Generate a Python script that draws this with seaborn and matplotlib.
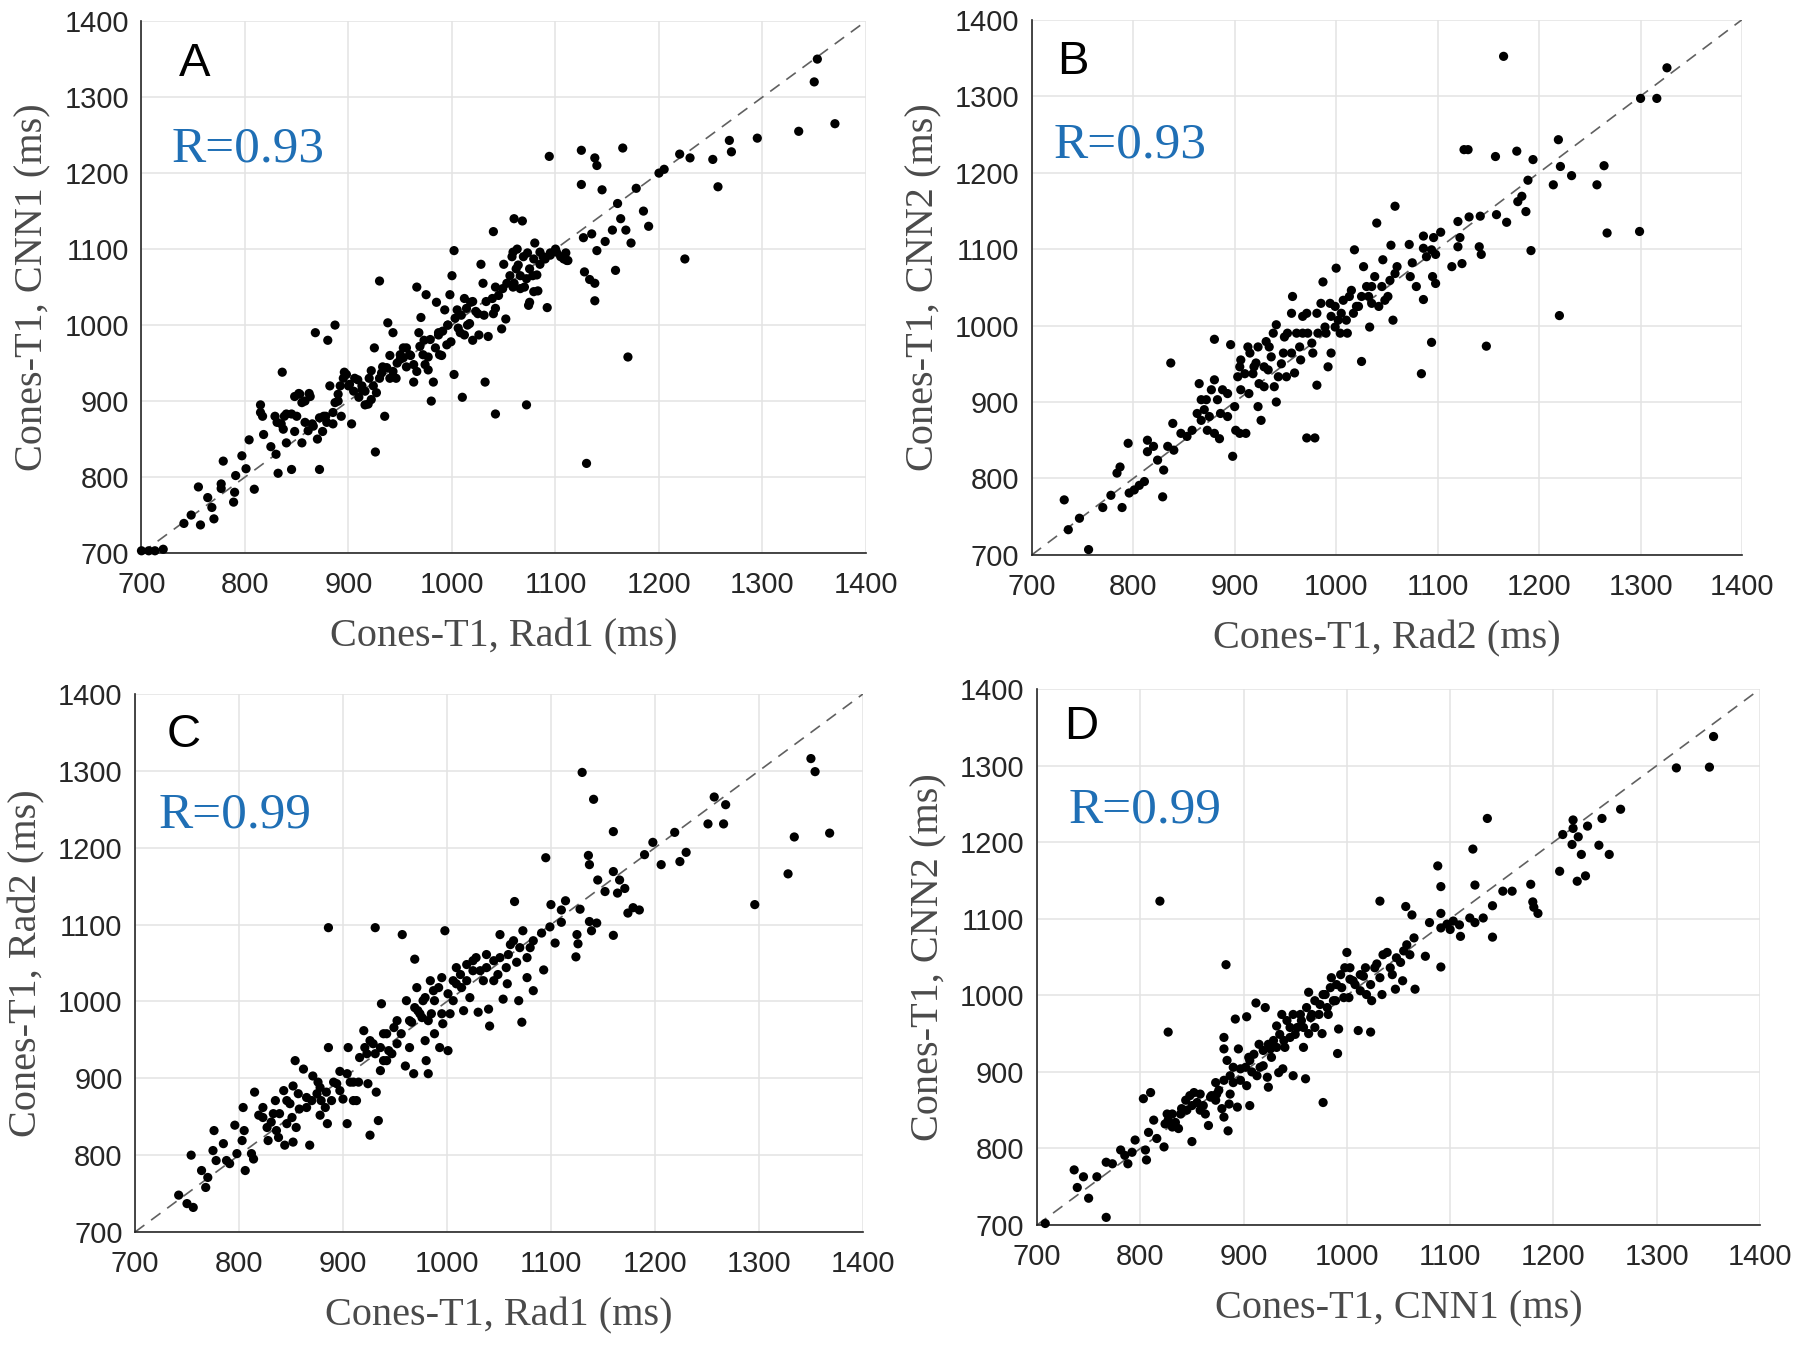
import numpy as np
import pandas as pd
import seaborn as sns
import matplotlib
matplotlib.use("Agg")
import matplotlib.pyplot as plt

# ---- data (ms) ----
a_x = [700, 707, 713, 721, 741, 748, 757, 755, 764, 768, 770, 777, 777, 779, 789, 790, 791, 797, 801, 809,
       804, 815, 815, 818, 825, 830, 832, 835, 838, 836, 840, 845, 848, 850, 852, 855, 858, 862, 865, 868,
       870, 872, 875, 878, 880, 882, 887, 885, 890, 893, 896, 900, 903, 906, 910, 913, 916, 920, 922, 925,
       926, 930, 933, 935, 938, 940, 943, 946, 950, 953, 956, 960, 963, 966, 968, 970, 973, 975, 977, 980,
       982, 985, 987, 990, 993, 996, 998, 1000, 1002, 1002, 1005, 1008, 1010, 1012, 1015, 1018, 1020, 1025, 1028, 1030,
       1032, 1035, 1040, 1042, 1040, 1042, 1048, 1050, 1052, 1058, 1060, 1063, 1060, 1068, 1066, 1070, 1072, 1073, 1075, 1078,
       1080, 1083, 1085, 1088, 1092, 1094, 1095, 1100, 1105, 1110, 1112, 1125, 1125, 1127, 1128, 1130, 1133, 1135, 1138, 1138,
       1140, 1138, 1140, 1145, 1148, 1155, 1158, 1160, 1163, 1165, 1168, 1170, 1173, 1178, 1185, 1190, 1200, 1205, 1220, 1225,
       1230, 1252, 1257, 1268, 1270, 1295, 1335, 1350, 1353, 1370]
a_y = [703, 703, 703, 705, 739, 750, 737, 787, 773, 760, 745, 785, 791, 821, 767, 780, 802, 828, 811, 784,
       849, 895, 885, 856, 840, 830, 805, 870, 880, 938, 845, 810, 860, 880, 910, 845, 900, 910, 870, 990,
       850, 810, 860, 880, 980, 920, 1000, 870, 900, 880, 938, 920, 870, 930, 905, 915, 895, 930, 940, 970,
       833, 1058, 945, 880, 1003, 960, 990, 930, 955, 970, 945, 960, 925, 1050, 990, 1010, 980, 1040, 958, 900,
       925, 1030, 990, 960, 1020, 1000, 1040, 1065, 1098, 935, 1020, 990, 905, 1035, 1000, 1030, 980, 1015, 1080, 1055,
       925, 985, 1123, 1050, 1015, 883, 995, 1080, 1008, 1090, 1140, 1100, 1055, 1137, 1065, 1050, 895, 1095, 1030, 1065,
       1108, 1045, 1080, 1090, 1023, 1222, 1095, 1100, 1090, 1095, 1085, 1185, 1230, 1115, 1070, 818, 1060, 1120, 1055, 1032,
       1098, 1220, 1210, 1178, 1110, 1125, 1072, 1160, 1140, 1233, 1125, 958, 1108, 1180, 1150, 1130, 1200, 1205, 1225, 1087,
       1220, 1218, 1182, 1243, 1228, 1246, 1255, 1320, 1350, 1265]
# extra points in the dense middle of panel A
a_extra = [(817, 880), (829, 880), (831, 872), (837, 863), (840, 883), (845, 883), (848, 906), (853, 909), (863, 906),
           (855, 898), (858, 872), (861, 861), (866, 867), (872, 878), (876, 880), (879, 872), (885, 885), (887, 898),
           (890, 909), (892, 920), (895, 930), (898, 935), (901, 922), (905, 913), (909, 928), (913, 920), (916, 913),
           (919, 896), (922, 902), (924, 920), (927, 911), (930, 930), (932, 937), (937, 944), (940, 930), (943, 939),
           (947, 950), (950, 961), (953, 957), (956, 970), (959, 961), (963, 948), (966, 939), (969, 972), (972, 961),
           (974, 948), (977, 941), (979, 981), (984, 970), (987, 987), (988, 961), (991, 992), (995, 974), (996, 1000),
           (999, 978), (1003, 1009), (1006, 996), (1009, 1013), (1012, 987), (1014, 1022), (1017, 1002), (1020, 1031),
           (1023, 1018), (1026, 987), (1031, 1013), (1033, 1031), (1039, 1035), (1042, 1022), (1045, 1039), (1049, 1048),
           (1053, 1055), (1056, 1065), (1059, 1050), (1062, 1074), (1059, 1096), (1064, 1079), (1069, 1090), (1072, 1061),
           (1075, 1074), (1079, 1087), (1082, 1066), (1085, 1096), (1090, 1087), (1095, 1092), (1101, 1096), (1108, 1087),
           (1111, 1085), (1066, 1048), (1079, 1044), (1074, 1026)]

b_x = [732, 736, 747, 756, 770, 778, 784, 787, 789, 795, 796, 801, 806, 811, 814, 814, 820, 824, 829, 830,
       834, 839, 840, 837, 847, 853, 858, 863, 865, 867, 872, 875, 877, 880, 880, 885, 886, 893, 896, 898,
       901, 905, 905, 906, 911, 913, 914, 919, 923, 923, 926, 929, 931, 933, 936, 939, 941, 941, 946, 949,
       951, 956, 957, 959, 965, 967, 971, 979, 971, 976, 981, 982, 987, 989, 992, 994, 995, 999, 1000, 1002,
       1005, 1011, 1013, 1017, 1018, 1022, 1025, 1027, 1032, 1033, 1035, 1040, 1042, 1046, 1051, 1054, 1056, 1058, 1060,
       1165, 1326, 1300, 1316, 1219, 1126, 1130, 1157, 1178, 1194, 1221, 1264, 1232, 1189, 1214, 1257, 1183, 1179, 1187,
       1158, 1168, 1131, 1142, 1120, 1267, 1299, 1122, 1103, 1096, 1086, 1120, 1141, 1143, 1192, 1114, 1124, 1098, 1095,
       1098, 1086, 1072, 1220, 1148, 1094, 1084, 1075, 1073, 1079, 1089, 1094, 1086]
b_y = [772, 733, 748, 707, 762, 778, 807, 815, 762, 846, 781, 785, 791, 796, 850, 835, 842, 824, 776, 811,
       842, 872, 837, 951, 859, 855, 863, 885, 924, 876, 903, 881, 916, 929, 982, 852, 885, 911, 975, 829,
       863, 946, 859, 916, 859, 972, 911, 946, 972, 894, 876, 920, 979, 942, 959, 920, 1001, 900, 950, 985,
       933, 964, 1038, 938, 955, 990, 853, 853, 1016, 977, 922, 990, 1057, 998, 946, 1029, 964, 998, 1075, 1007,
       1016, 990, 1038, 1016, 1099, 1025, 953, 1077, 1038, 998, 1051, 1134, 1025, 1086, 1038, 1105, 1007, 1156, 1077,
       1352, 1337, 1297, 1297, 1243, 1230, 1230, 1221, 1228, 1217, 1208, 1209, 1196, 1190, 1184, 1184, 1169, 1162, 1149,
       1145, 1135, 1142, 1143, 1136, 1121, 1123, 1115, 1122, 1115, 1117, 1103, 1103, 1093, 1098, 1077, 1081, 1093, 1064,
       1055, 1034, 1106, 1013, 973, 978, 937, 1082, 1064, 1051, 1090, 1099, 1101]
b_extra = [(867, 903), (870, 890), (873, 863), (880, 859), (883, 903), (888, 916), (893, 881), (900, 894), (903, 933),
           (906, 955), (910, 937), (915, 964), (918, 937), (921, 951), (924, 924), (929, 946), (934, 972), (938, 990),
           (943, 933), (948, 964), (952, 990), (956, 1016), (961, 990), (964, 972), (967, 1012), (972, 990), (977, 964),
           (981, 1016), (985, 1029), (990, 990), (995, 1012), (999, 1025), (1004, 990), (1007, 1033), (1010, 1007),
           (1015, 1046), (1020, 1025), (1025, 1038), (1030, 1051), (1035, 1029), (1038, 1064), (1045, 1051),
           (1048, 1033), (1053, 1059), (1058, 1068)]

c_x = [742, 750, 756, 754, 764, 768, 770, 775, 776, 778, 785, 788, 791, 796, 798, 803, 805, 806, 804, 812,
       814, 815, 819, 823, 827, 828, 831, 835, 836, 839, 843, 844, 846, 849, 852, 852, 854, 855, 858, 862,
       865, 868, 870, 871, 876, 878, 879, 884, 885, 886, 886, 889, 894, 897, 900, 904, 905, 907, 910, 913,
       915, 920, 923, 924, 926, 929, 931, 932, 934, 936, 937, 939, 942, 944, 949, 952, 957, 960, 961, 964,
       966, 968, 969, 971, 972, 976, 977, 979, 980, 982, 985, 987, 988, 993, 995, 996, 998, 1001, 1003, 1006,
       1009, 1013, 1016, 1019, 1022, 1025, 1028, 1030, 1035, 1038, 1040, 1041, 1045, 1049, 1051, 1054, 1058, 1059, 1061, 1065,
       1067, 1069, 1072, 1073, 1077, 1080, 1083, 1095, 1100, 1110, 1114, 1110, 1099, 1104, 1093, 1091, 1125, 1126, 1124, 1128,
       1130, 1141, 1136, 1137, 1145, 1137, 1139, 1144, 1152, 1160, 1160, 1160, 1164, 1166, 1171, 1174, 1179, 1185, 1190, 1198,
       1206, 1219, 1224, 1230, 1251, 1257, 1266, 1268, 1296, 1328, 1334, 1350, 1354, 1368]
c_y = [748, 737, 732, 800, 780, 758, 771, 806, 832, 793, 815, 793, 789, 839, 802, 819, 832, 780, 862, 802,
       795, 882, 852, 862, 836, 819, 843, 871, 832, 854, 884, 813, 841, 867, 817, 890, 923, 836, 860, 912,
       875, 813, 871, 903, 895, 852, 871, 882, 841, 1096, 940, 871, 893, 909, 873, 841, 940, 895, 871, 871,
       895, 962, 932, 893, 826, 945, 1096, 882, 845, 910, 997, 958, 923, 936, 966, 945, 1087, 916, 1001, 940,
       973, 906, 1055, 1018, 988, 979, 1001, 949, 923, 906, 984, 1014, 958, 940, 1031, 971, 1092, 936, 984, 1001,
       1023, 1035, 988, 1048, 1005, 1040, 1057, 986, 1027, 1044, 990, 968, 1053, 1035, 1087, 1003, 1023, 1061, 1074, 1130,
       1051, 1001, 973, 1092, 1031, 1070, 1014, 1187, 1126, 1119, 1131, 1103, 1097, 1076, 1041, 1089, 1087, 1075, 1058, 1120,
       1298, 1263, 1190, 1178, 1158, 1104, 1092, 1102, 1143, 1221, 1169, 1086, 1141, 1158, 1147, 1115, 1122, 1119, 1191, 1207,
       1178, 1220, 1182, 1194, 1231, 1266, 1231, 1256, 1126, 1166, 1214, 1316, 1299, 1219]
c_extra = [(823, 849), (833, 854), (838, 823), (846, 871), (851, 849), (857, 880), (865, 862), (875, 880), (878, 888),
           (883, 862), (891, 895), (897, 884), (904, 906), (910, 895), (916, 927), (921, 940), (926, 949), (931, 932),
           (936, 940), (939, 923), (942, 958), (947, 932), (952, 975), (956, 958), (964, 975), (969, 992), (974, 984),
           (979, 1005), (982, 975), (984, 1027), (988, 1001), (992, 1018), (995, 984), (1001, 1010), (1006, 1027),
           (1009, 1044), (1014, 1018), (1019, 1027), (1025, 1053), (1032, 1040), (1038, 1061), (1045, 1027),
           (1051, 1057), (1057, 1044), (1064, 1079), (1070, 1070), (1077, 1057), (1083, 1079)]

d_x = [708, 736, 739, 745, 750, 758, 767, 767, 773, 781, 785, 788, 792, 795, 803, 805, 806, 808, 810, 813,
       816, 819, 823, 824, 827, 827, 831, 834, 837, 840, 845, 848, 850, 852, 855, 858, 861, 866, 869, 873,
       874, 879, 881, 881, 881, 883, 884, 885, 886, 887, 890, 892, 894, 895, 897, 903, 903, 905, 906, 908,
       912, 913, 915, 919, 921, 923, 924, 926, 929, 932, 934, 937, 938, 940, 945, 948, 948, 952, 956, 958,
       960, 963, 963, 966, 969, 974, 976, 977, 979, 982, 985, 989, 991, 992, 995, 998, 1000, 1002, 1003, 1006,
       1011, 1013, 1016, 1019, 1023, 1024, 1029, 1032, 1034, 1039, 1044, 1047, 1052, 1054, 1057, 1058, 1063, 1065, 1066,
       1355, 1319, 1351, 1265, 1247, 1233, 1219, 1219, 1224, 1209, 1218, 1244, 1254, 1227, 1206, 1223, 1231, 1136, 1122,
       1088, 1091, 1124, 1151, 1160, 1178, 1141, 1180, 1181, 1185, 1132, 1124, 1119, 1141, 1091, 1080, 1091, 1097, 1100,
       1103, 1109, 1110, 1091, 1076]
d_y = [702, 772, 749, 763, 735, 763, 710, 782, 780, 798, 791, 780, 795, 811, 865, 798, 785, 821, 873, 837,
       813, 1123, 802, 832, 952, 837, 845, 834, 826, 852, 850, 869, 809, 873, 860, 850, 856, 830, 869, 886,
       871, 852, 945, 841, 930, 1040, 915, 823, 858, 895, 886, 969, 854, 930, 904, 972, 882, 919, 856, 900,
       990, 895, 936, 908, 984, 893, 880, 930, 941, 960, 899, 975, 904, 932, 945, 975, 895, 958, 967, 932,
       891, 1004, 950, 975, 958, 988, 950, 860, 1001, 975, 1023, 993, 924, 956, 1010, 1036, 1056, 997, 1021, 1019,
       954, 1006, 1025, 1001, 952, 993, 1041, 1123, 1001, 1056, 1027, 1008, 1043, 1019, 1116, 1066, 1105, 1075, 1008,
       1338, 1297, 1298, 1243, 1231, 1221, 1229, 1218, 1207, 1210, 1197, 1196, 1184, 1184, 1162, 1149, 1156, 1231, 1191,
       1169, 1142, 1144, 1136, 1136, 1145, 1117, 1122, 1115, 1107, 1101, 1095, 1101, 1076, 1107, 1095, 1088, 1093, 1086,
       1097, 1092, 1077, 1037, 1051]
d_extra = [(826, 845), (831, 828), (839, 845), (844, 863), (850, 856), (858, 871), (863, 845), (868, 867), (873, 863),
           (876, 876), (881, 889), (887, 871), (890, 906), (897, 889), (902, 906), (906, 915), (910, 923), (916, 906),
           (919, 928), (924, 936), (927, 919), (932, 932), (935, 949), (939, 941), (942, 967), (945, 958), (950, 949),
           (955, 975), (958, 958), (961, 984), (965, 971), (969, 993), (973, 975), (977, 1001), (981, 984), (984, 1010),
           (987, 993), (990, 1014), (994, 1027), (997, 997), (1003, 1036), (1008, 1014), (1013, 1027), (1018, 1036),
           (1023, 1014), (1027, 1036), (1032, 1023), (1035, 1053), (1042, 1036), (1048, 1049), (1055, 1058), (1061, 1053)]

r_values = ["R=0.93", "R=0.93", "R=0.99", "R=0.99"]
x_labels = ["Cones-T1, Rad1 (ms)", "Cones-T1, Rad2 (ms)", "Cones-T1, Rad1 (ms)", "Cones-T1, CNN1 (ms)"]
y_labels = ["Cones-T1, CNN1 (ms)", "Cones-T1, CNN2 (ms)", "Cones-T1, Rad2 (ms)", "Cones-T1, CNN2 (ms)"]
letters = ["A", "B", "C", "D"]
ticks = [700, 800, 900, 1000, 1100, 1200, 1300, 1400]


def panel_frame(xs, ys, extra):
    ex, ey = zip(*extra)
    return pd.DataFrame({"x": list(xs) + list(ex), "y": list(ys) + list(ey)})


frames = [panel_frame(a_x, a_y, a_extra), panel_frame(b_x, b_y, b_extra),
          panel_frame(c_x, c_y, c_extra), panel_frame(d_x, d_y, d_extra)]

# axes rectangles in figure fractions, and label / R-text positions in axes fractions
rects = [
    [0.0786, 0.5888, 0.4025, 0.3955],
    [0.5732, 0.5874, 0.3946, 0.3980],
    [0.0750, 0.0840, 0.4044, 0.4000],
    [0.5761, 0.0892, 0.4017, 0.3985],
]
letter_pos = [(0.074, 0.92), (0.058, 0.92), (0.067, 0.924), (0.061, 0.929)]
r_pos = [(0.042, 0.759), (0.031, 0.765), (0.032, 0.775), (0.043, 0.774)]

sns.set_style("whitegrid")
plt.rcParams['font.family'] = ['Liberation Sans', 'DejaVu Sans']

fig = plt.figure(figsize=(18, 13.45), dpi=100)

for i, df in enumerate(frames):
    ax = fig.add_axes(rects[i])
    ax.plot([700, 1400], [700, 1400], ls=(0, (7, 5)), color="#606060", lw=1.2, zorder=1)
    sns.scatterplot(data=df, x="x", y="y", ax=ax, color="black", s=44,
                    edgecolor="none", linewidth=0, clip_on=False, zorder=3)
    ax.set_xlim(700, 1400)
    ax.set_ylim(700, 1400)
    ax.set_xticks(ticks)
    ax.set_yticks(ticks)
    ax.grid(True, color="#e3e3e3", lw=1.1)
    for side in ["top", "right"]:
        ax.spines[side].set_visible(False)
    for side in ["left", "bottom"]:
        ax.spines[side].set_visible(True)
        ax.spines[side].set_color("#262626")
        ax.spines[side].set_linewidth(1.2)
    ax.tick_params(axis="both", direction="in", length=5, width=1.0, color="#262626",
                   labelsize=21, labelcolor="#262626")
    ax.tick_params(axis="x", pad=13)
    ax.tick_params(axis="y", pad=9)
    ax.set_xlabel(x_labels[i], family="Liberation Serif", fontsize=29, color="#4a4a4a", labelpad=14)
    ax.set_ylabel(y_labels[i], family="Liberation Serif", fontsize=29, color="#4a4a4a", labelpad=9)
    ax.text(letter_pos[i][0], letter_pos[i][1], letters[i], transform=ax.transAxes,
            fontsize=34, ha="center", va="center", color="black")
    ax.text(r_pos[i][0], r_pos[i][1], r_values[i], transform=ax.transAxes, family="Liberation Serif",
            fontsize=37, ha="left", va="center", color="#1f6fb5")

fig.savefig("out.png", dpi=100)
